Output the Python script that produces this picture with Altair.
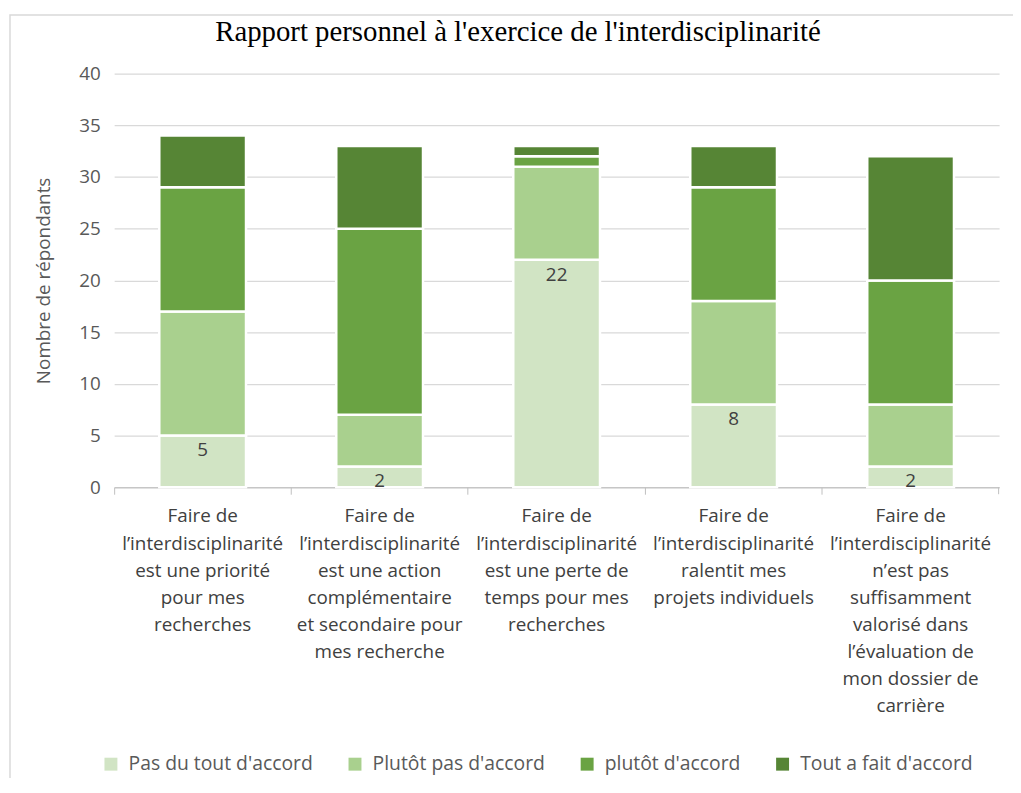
import altair as alt
import pandas as pd

categories = [
    "Faire de\nl’interdisciplinarité\nest une priorité\npour mes\nrecherches",
    "Faire de\nl’interdisciplinarité\nest une action\ncomplémentaire\net secondaire pour\nmes recherche",
    "Faire de\nl’interdisciplinarité\nest une perte de\ntemps pour mes\nrecherches",
    "Faire de\nl’interdisciplinarité\nralentit mes\nprojets individuels",
    "Faire de\nl’interdisciplinarité\nn’est pas\nsuffisamment\nvalorisé dans\nl’évaluation de\nmon dossier de\ncarrière",
]
series = ["Pas du tout d'accord", "Plutôt pas d'accord", "plutôt d'accord", "Tout a fait d'accord"]
pas_du_tout = [5, 2, 22, 8, 2]
plutot_pas = [12, 5, 9, 10, 6]
plutot = [12, 18, 1, 11, 12]
tout_a_fait = [5, 8, 1, 4, 12]
colors = ["#d1e4c4", "#a9d08e", "#6aa343", "#568535"]

values = [pas_du_tout, plutot_pas, plutot, tout_a_fait]
rows = []
for si, s in enumerate(series):
    for ci, c in enumerate(categories):
        rows.append({"cat": c, "series": s, "idx": si, "value": values[si][ci]})
df = pd.DataFrame(rows)

FONT = "Open Sans"
GRAY = "#595959"
FS = 19
W, H = 892, 417

x_enc = alt.X(
    "cat:N", sort=categories, title=None,
    scale=alt.Scale(paddingInner=0, paddingOuter=0),
    axis=alt.Axis(
        labelExpr="split(datum.label, '\\n')", labelAngle=0, labelLimit=0,
        labelFont=FONT, labelFontSize=FS, labelColor="#404040", labelLineHeight=27.3,
        labelPadding=13, tickSize=7, tickColor="#bfbfbf", domainColor="#bfbfbf",
        bandPosition=0, labelBaseline="top", grid=False,
    ),
)

bars = alt.Chart(df).mark_bar(
    width=alt.RelativeBandSize(0.49), stroke="white", strokeWidth=2.5
).encode(
    x=x_enc,
    y=alt.Y(
        "value:Q", stack="zero", title="Nombre de répondants",
        scale=alt.Scale(domain=[0, 40], nice=False),
        axis=alt.Axis(
            values=[0, 5, 10, 15, 20, 25, 30, 35, 40], domain=False, ticks=False,
            labelFont=FONT, labelFontSize=FS, labelColor=GRAY, labelPadding=14,
            titleFont=FONT, titleFontSize=FS, titleColor=GRAY, titleFontWeight="normal",
            titlePadding=25, gridColor="#d9d9d9", gridWidth=1.3,
        ),
    ),
    color=alt.Color(
        "series:N", sort=series,
        scale=alt.Scale(domain=series, range=colors),
        legend=alt.Legend(
            title=None, orient="none", direction="horizontal",
            legendX=-13, legendY=686, symbolType="square", symbolSize=170,
            symbolStrokeWidth=0, labelFont=FONT, labelFontSize=19.5, labelColor=GRAY,
            labelOffset=8, columnPadding=32, labelLimit=400,
        ),
    ),
    order=alt.Order("idx:Q", sort="ascending"),
)

labels = alt.Chart(df).transform_filter(
    alt.datum.series == "Pas du tout d'accord"
).mark_text(
    baseline="top", dy=6, font=FONT, fontSize=FS, color="#404040"
).encode(
    x=alt.X("cat:N", sort=categories),
    y=alt.Y("value:Q"),
    text=alt.Text("value:Q"),
)

border = alt.Chart(pd.DataFrame({"a": [0]})).mark_rect(
    fill=None, stroke="#d9d9d9", strokeWidth=1.5
).encode(
    x=alt.value(-105), x2=alt.value(930), y=alt.value(-59), y2=alt.value(800)
)

xend = alt.Chart(pd.DataFrame({"a": [0]})).mark_rule(color="#bfbfbf").encode(
    x=alt.value(W - 0.5), y=alt.value(H), y2=alt.value(H + 7)
)

chart = alt.layer(border, bars, labels, xend).properties(
    width=W, height=H,
    autosize=alt.AutoSizeParams(type="none"),
    padding={"left": 107, "top": 63, "right": 14, "bottom": 290},
    title=alt.TitleParams(
        "Rapport personnel à l'exercice de l'interdisciplinarité",
        font="Liberation Serif", fontSize=29, color="#000000", fontWeight="normal",
        anchor="middle", dx=-39, offset=-33, frame="group",
    ),
).configure_view(stroke=None)

chart.save("out.html", embed_options={"renderer": "svg", "actions": False})
